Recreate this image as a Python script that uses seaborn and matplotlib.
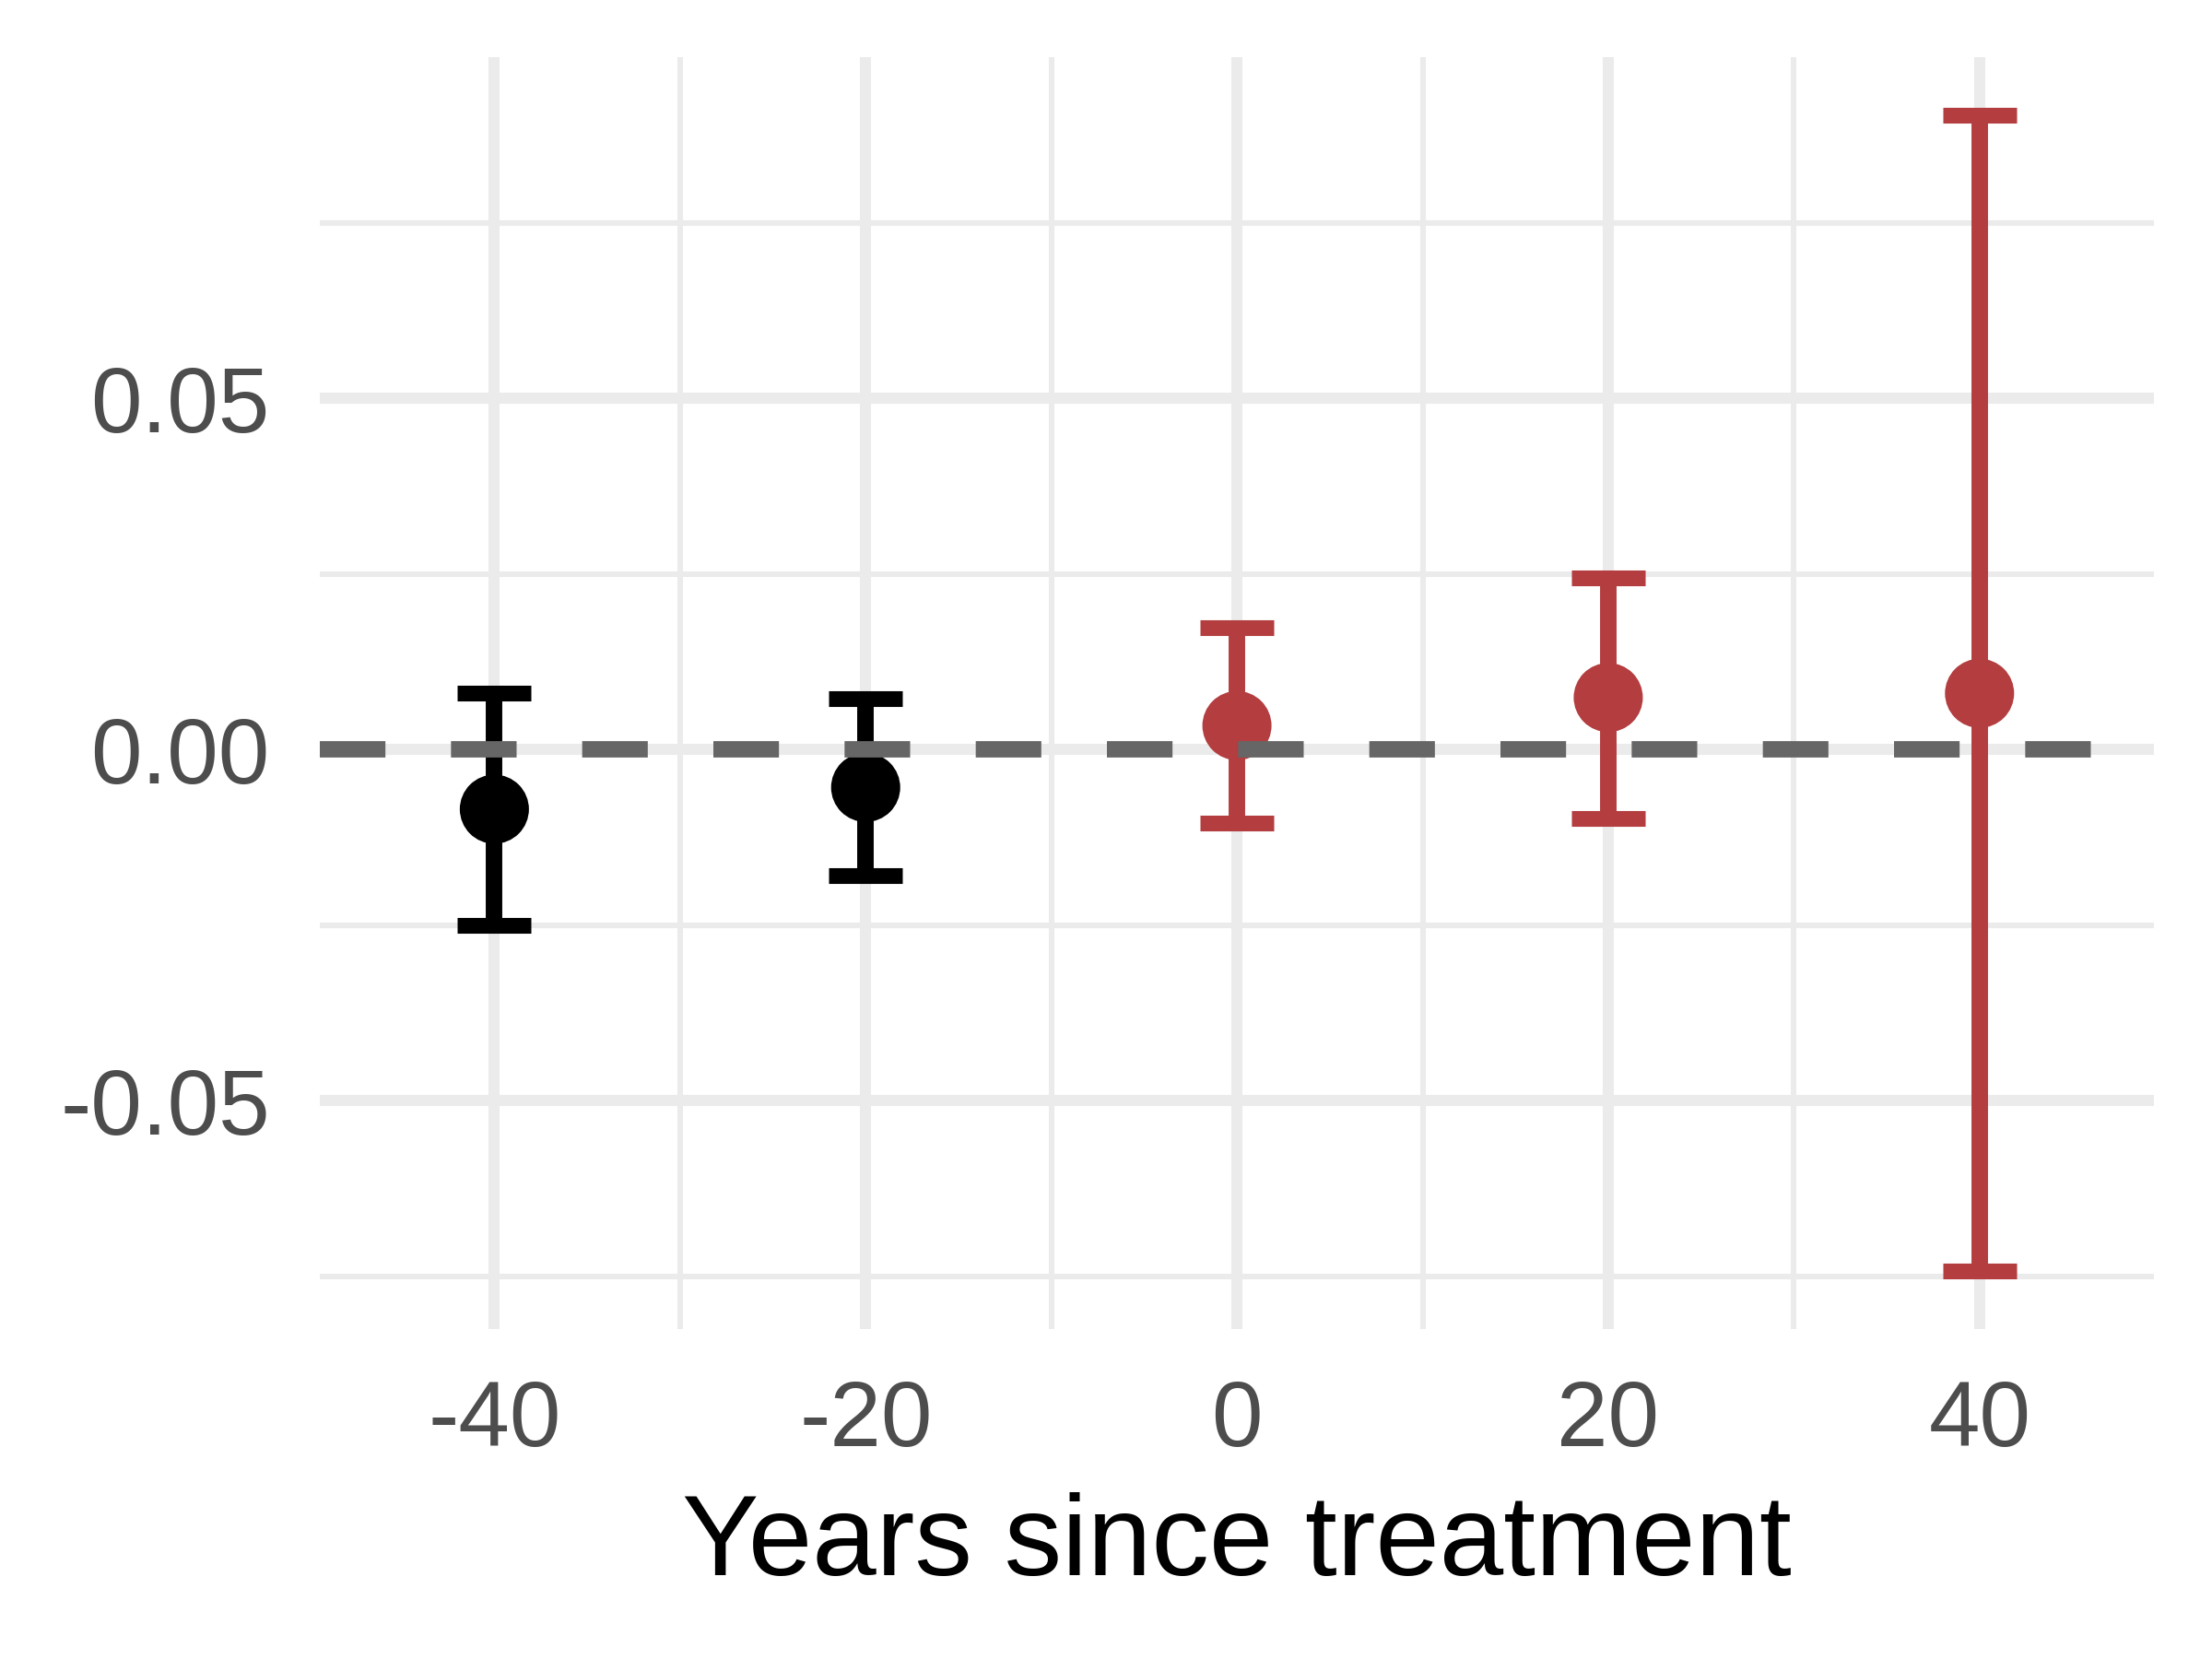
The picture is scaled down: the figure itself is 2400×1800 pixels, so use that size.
import matplotlib
matplotlib.use("Agg")
import matplotlib.pyplot as plt
import seaborn as sns
import pandas as pd

# datos del gráfico de eventos
years = [-40, -20, 0, 20, 40]
estimate = [-0.0085, -0.0054, 0.0034, 0.0074, 0.0080]
ci_low = [-0.0251, -0.0180, -0.0105, -0.0098, -0.0743]
ci_high = [0.0080, 0.0072, 0.0173, 0.0245, 0.0903]
period = ["pre", "pre", "post", "post", "post"]

colores = {"pre": "#000000", "post": "#B33D3F"}

df = pd.DataFrame({"year": years, "est": estimate, "lo": ci_low,
                   "hi": ci_high, "period": period})

sns.set_style("white")
plt.rcParams["font.family"] = ["Liberation Sans", "DejaVu Sans"]

fig = plt.figure(figsize=(8, 6), dpi=300)
ax = fig.add_axes([0.1446, 0.199, 0.8292, 0.7666])

# rejilla estilo ggplot
ax.set_xticks([-40, -20, 0, 20, 40])
ax.set_xticks([-30, -10, 10, 30], minor=True)
ax.set_yticks([-0.05, 0.0, 0.05])
ax.set_yticks([-0.075, -0.025, 0.025, 0.075], minor=True)
ax.grid(True, which="major", color="#EBEBEB", linewidth=2.9)
ax.grid(True, which="minor", color="#EBEBEB", linewidth=1.45)
ax.set_axisbelow(True)

# barras de error
for p, c in colores.items():
    sub = df[df["period"] == p]
    ax.errorbar(sub["year"], sub["est"],
                yerr=[sub["est"] - sub["lo"], sub["hi"] - sub["est"]],
                fmt="none", ecolor=c, elinewidth=4.3, capsize=9.6,
                capthick=4.1, zorder=3)

sns.scatterplot(data=df, x="year", y="est", hue="period", palette=colores,
                s=18 ** 2, linewidth=0, legend=False, ax=ax, zorder=4)

ax.axhline(0, color="#666666", linewidth=4.27, dashes=(4, 4), zorder=5)

ax.set_xlim(-49.4, 49.4)
ax.set_ylim(-0.0825, 0.0986)
ax.set_yticklabels(["-0.05", "0.00", "0.05"])
ax.set_xticklabels(["-40", "-20", "0", "20", "40"])
ax.tick_params(axis="both", which="both", length=0, labelsize=24,
               labelcolor="#4D4D4D", pad=13)
ax.set_xlabel("Years since treatment", fontsize=30, color="black", labelpad=7)
ax.set_ylabel("")
sns.despine(ax=ax, left=True, bottom=True)

fig.savefig("out.png", dpi=300, facecolor="white")
